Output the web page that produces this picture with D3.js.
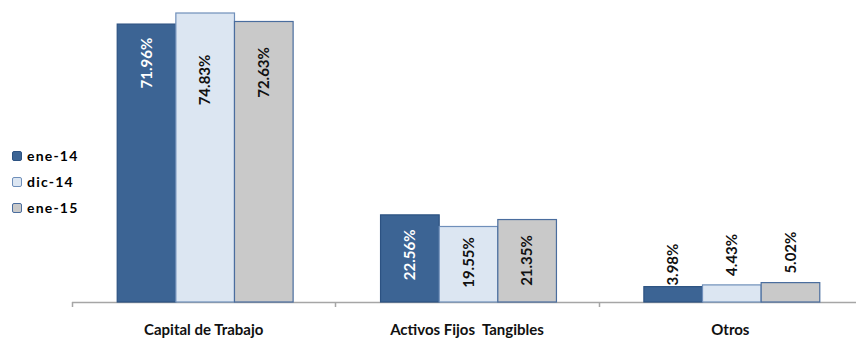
<!DOCTYPE html>
<html>
<head>
<meta charset="utf-8">
<script src="https://cdn.jsdelivr.net/npm/d3@7"></script>
<style>
  body { margin: 0; background: #fff; }
  svg { display: block; font-family: Lato, "Liberation Sans", sans-serif; font-weight: bold; }
</style>
</head>
<body>
<svg id="chart"></svg>
<script>
// chart values
const categories = ['Capital de Trabajo', 'Activos Fijos  Tangibles', 'Otros'];
const seriesNames = ['ene-14', 'dic-14', 'ene-15'];
const ene14 = [71.96, 22.56, 3.98];
const dic14 = [74.83, 19.55, 4.43];
const ene15 = [72.63, 21.35, 5.02];
const seriesValues = [ene14, dic14, ene15];

const config = {
  width: 856,
  height: 340,
  left: 72,
  right: 862,
  baseline: 302,
  fills: ['#3C6494', '#DCE6F2', '#C9C9C9'],
  strokes: ['#2C5282', '#6F8FBA', '#4A6D9E'],
  // label centre relative to bar top (per category, per series)
  labelDy: [[39, 67, 51], [40, 36, 41], [-22, -30, -30]]
};

const svg = d3.select('#chart')
  .attr('width', config.width)
  .attr('height', config.height);

const x0 = d3.scaleBand()
  .domain(categories)
  .range([config.left, config.right])
  .padding(0);

const groupWidth = x0.bandwidth() * 0.668;
const x1 = d3.scaleBand()
  .domain(seriesNames)
  .range([0, groupWidth]);

const y = d3.scaleLinear()
  .domain([0, d3.max(dic14)])
  .range([config.baseline, 13]);

// rows for the bars
const rows = [];
categories.forEach((c, ci) => {
  seriesNames.forEach((s, si) => {
    rows.push({cat: c, ci: ci, series: s, si: si, value: seriesValues[si][ci]});
  });
});

const groupOffset = (x0.bandwidth() - groupWidth) / 2 + 1.5;

// axis line + category labels
const axis = svg.append('g')
  .attr('transform', `translate(0,${config.baseline})`)
  .call(d3.axisBottom(x0).tickSize(0).tickPadding(22).tickSizeOuter(0));
axis.select('.domain').remove();
axis.append('line')
  .attr('x1', config.left).attr('x2', config.width)
  .attr('y1', 0.5).attr('y2', 0.5)
  .attr('stroke', '#A6A6A6').attr('stroke-width', 1.5);
axis.selectAll('.boundary')
  .data(categories)
  .join('line')
    .attr('class', 'boundary')
    .attr('x1', d => Math.round(x0(d)) + 0.5)
    .attr('x2', d => Math.round(x0(d)) + 0.5)
    .attr('y1', 0).attr('y2', 5)
    .attr('stroke', '#A6A6A6').attr('stroke-width', 1.5);
axis.selectAll('.tick text')
  .attr('fill', '#111')
  .style('font-size', '15px')
  .style('font-weight', 'bold')
  .style('font-family', 'Lato, "Liberation Sans", sans-serif')
  .style('white-space', 'pre');

// bars
svg.append('g').selectAll('rect')
  .data(rows)
  .join('rect')
    .attr('x', d => x0(d.cat) + groupOffset + x1(d.series))
    .attr('y', d => y(d.value))
    .attr('width', x1.bandwidth())
    .attr('height', d => config.baseline - y(d.value))
    .attr('fill', d => config.fills[d.si])
    .attr('stroke', d => config.strokes[d.si])
    .attr('stroke-width', 1.2);

// value labels
svg.append('g').selectAll('text')
  .data(rows)
  .join('text')
    .attr('transform', d => {
      const cx = x0(d.cat) + groupOffset + x1(d.series) + x1.bandwidth() / 2;
      const cy = y(d.value) + config.labelDy[d.ci][d.si];
      return `translate(${cx},${cy}) rotate(-90)`;
    })
    .attr('text-anchor', 'middle')
    .attr('dy', '0.35em')
    .attr('fill', d => (d.si === 0 && d.ci < 2) ? '#fff' : '#111')
    .style('font-size', '15px')
    .text(d => d.value.toFixed(2) + '%');

// legend
const legend = svg.append('g')
  .attr('transform', 'translate(12,151)');
const entry = legend.selectAll('.legend-entry')
  .data(seriesNames)
  .join('g')
    .attr('class', 'legend-entry')
    .attr('transform', (d, i) => `translate(0,${i * 26})`);
entry.append('rect')
  .attr('x', 0.5).attr('y', 0.5)
  .attr('width', 9).attr('height', 9)
  .attr('rx', 1.5)
  .attr('fill', (d, i) => config.fills[i])
  .attr('stroke', (d, i) => config.strokes[i]);
entry.append('text')
  .attr('x', 15)
  .attr('y', 5)
  .attr('dy', '0.35em')
  .style('font-size', '14px')
  .style('letter-spacing', '1.2px')
  .text(d => d);
</script>
</body>
</html>
